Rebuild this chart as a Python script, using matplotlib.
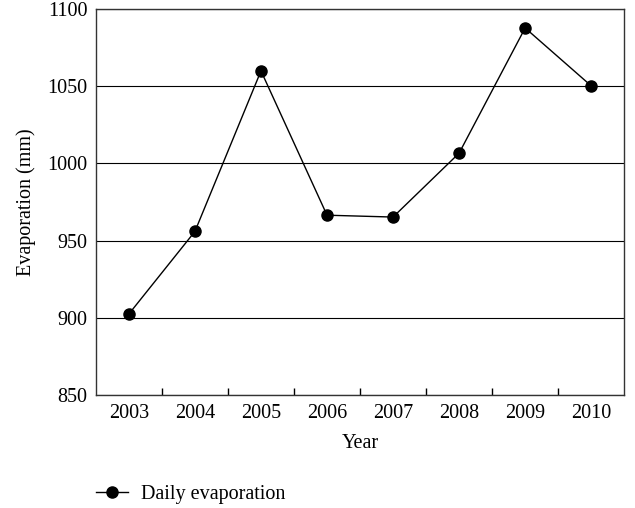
import numpy as np
import matplotlib.pyplot as plt

years = ['2003', '2004', '2005', '2006', '2007', '2008', '2009', '2010']
evaporation = [902.5, 956, 1060, 966.5, 965.3, 1006.7, 1087.8, 1050.3]

plt.rcParams['font.family'] = ['Liberation Serif', 'DejaVu Serif']
fs = 14.5

fig = plt.figure(figsize=(6.35, 5.08), dpi=100)
ax = fig.add_axes([0.151, 0.2224, 0.832, 0.7596])

x = np.arange(len(years))
ax.plot(x, evaporation, color='black', linewidth=1, marker='o', markersize=8,
        label='Daily evaporation', zorder=3)

ax.set_xlim(-0.5, len(years) - 0.5)
ax.set_ylim(850, 1100)
ax.set_yticks([850, 900, 950, 1000, 1050, 1100])
ax.yaxis.grid(True, color='black', linewidth=0.8)
ax.set_axisbelow(True)

# category labels in the middle, ticks at the boundaries
ax.set_xticks(x[:-1] + 0.5)
ax.set_xticklabels([])
ax.set_xticks(x, minor=True)
ax.set_xticklabels(years, minor=True)
ax.tick_params(axis='x', which='major', direction='in', length=5, width=1)
ax.tick_params(axis='x', which='minor', length=0, pad=6.5, labelsize=fs)
ax.tick_params(axis='y', direction='in', length=0, pad=6, labelsize=fs)

for s in ax.spines.values():
    s.set_linewidth(1)
    s.set_color('#333333')

ax.set_xlabel('Year', fontsize=fs, labelpad=8)
ax.set_ylabel('Evaporation (mm)', fontsize=fs, labelpad=8)

fig.legend(loc='center left', bbox_to_anchor=(0.123, 0.027), frameon=False,
           fontsize=fs, handlelength=1.6, handletextpad=0.6)

fig.savefig('out.png', dpi=100)
